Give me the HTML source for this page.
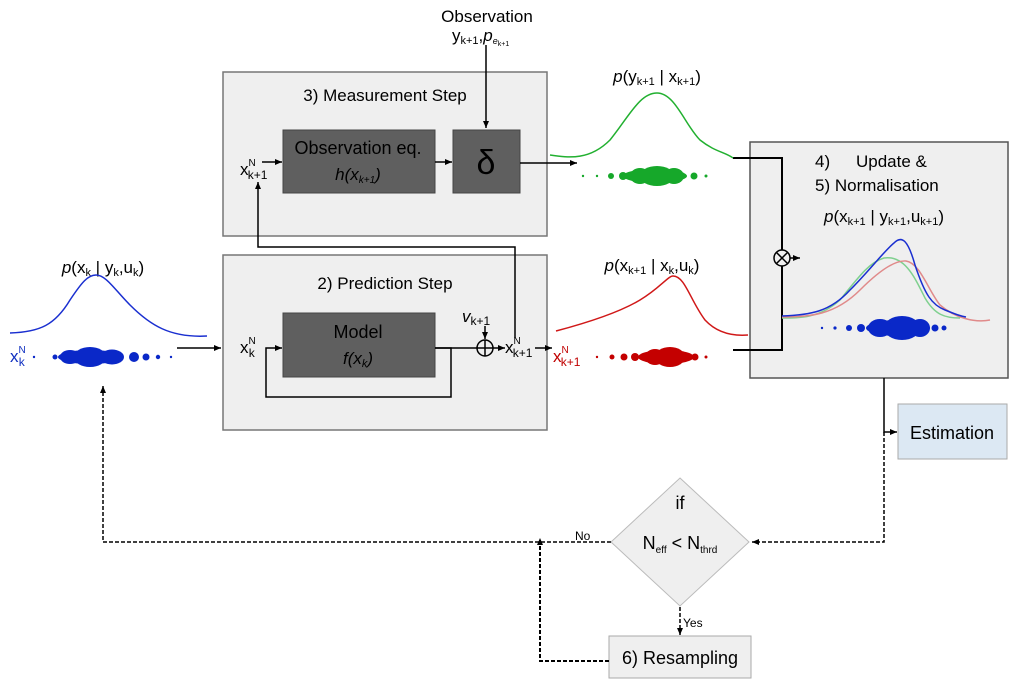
<!DOCTYPE html>
<html><head><meta charset="utf-8"><style>
body{margin:0;background:#fff}
svg{display:block;font-family:"Liberation Sans",sans-serif}
</style></head><body>
<svg width="1024" height="685" viewBox="0 0 1024 685" xmlns="http://www.w3.org/2000/svg">
<defs>
<marker id="a" markerWidth="8" markerHeight="8" refX="7" refY="4" orient="auto" markerUnits="userSpaceOnUse"><path d="M0,1 L7,4 L0,7z" fill="#000"/></marker>
</defs>
<rect x="223" y="72" width="324" height="164" fill="#efefef" stroke="#777" stroke-width="1.5"/>
<rect x="223" y="255" width="324" height="175" fill="#efefef" stroke="#777" stroke-width="1.5"/>
<rect x="750" y="142" width="258" height="236" fill="#efefef" stroke="#555" stroke-width="1.5"/>
<rect x="283" y="130" width="152" height="63" fill="#5f5f5f" stroke="#444"/>
<rect x="453" y="130" width="67" height="63" fill="#5f5f5f" stroke="#444"/>
<rect x="283" y="313" width="152" height="64" fill="#5f5f5f" stroke="#444"/>
<rect x="898" y="404" width="109" height="55" fill="#dce8f3" stroke="#aaa"/>
<rect x="609" y="636" width="142" height="42" fill="#efefef" stroke="#aaa"/>
<polygon points="680,478 749,542 680,606 611,542" fill="#efefef" stroke="#bbb"/>

<g font-size="17" fill="#000">
<text x="385" y="101" text-anchor="middle">3) Measurement Step</text>
<text x="385" y="289" text-anchor="middle">2) Prediction Step</text>
<text x="358" y="154" text-anchor="middle" font-size="18">Observation eq.</text>
<text x="358" y="180" text-anchor="middle" font-style="italic">h(x<tspan font-size="10" dy="3">k+1</tspan><tspan dy="-3">)</tspan></text>
<text x="486" y="174" text-anchor="middle" font-size="34">δ</text>
<text x="358" y="338" text-anchor="middle" font-size="18">Model</text>
<text x="358" y="364" text-anchor="middle" font-style="italic">f(x<tspan font-size="11" dy="3">k</tspan><tspan dy="-3">)</tspan></text>
<text x="487" y="22" text-anchor="middle">Observation</text>
<text x="452" y="41">y<tspan font-size="11" dy="3">k+1</tspan><tspan dy="-3">,</tspan><tspan font-style="italic">p</tspan><tspan font-size="9" font-style="italic" dy="3">e</tspan><tspan font-size="7" dy="2">k+1</tspan></text>
<text x="240" y="175">x<tspan font-size="10" dy="-9">N</tspan><tspan font-size="12" dx="-8" dy="13">k+1</tspan></text>
<text x="240" y="353">x<tspan font-size="10" dy="-9">N</tspan><tspan font-size="12" dx="-7" dy="13">k</tspan></text>
<text x="462" y="322" font-style="italic">v<tspan font-size="12" font-style="normal" dy="3">k+1</tspan></text>
<text x="505" y="353">x<tspan font-size="10" dy="-9">N</tspan><tspan font-size="12" dx="-8" dy="13">k+1</tspan></text>
<text x="10" y="362" fill="#1030c0">x<tspan font-size="10" dy="-9">N</tspan><tspan font-size="12" dx="-7" dy="13">k</tspan></text>
<text x="553" y="362" fill="#c00000">x<tspan font-size="10" dy="-9">N</tspan><tspan font-size="12" dx="-8" dy="13">k+1</tspan></text>
<text x="103" y="273" text-anchor="middle"><tspan font-style="italic">p</tspan>(x<tspan font-size="11" dy="3">k</tspan><tspan dy="-3"> | y</tspan><tspan font-size="11" dy="3">k</tspan><tspan dy="-3">,u</tspan><tspan font-size="11" dy="3">k</tspan><tspan dy="-3">)</tspan></text>
<text x="657" y="82" text-anchor="middle"><tspan font-style="italic">p</tspan>(y<tspan font-size="11" dy="3">k+1</tspan><tspan dy="-3"> | x</tspan><tspan font-size="11" dy="3">k+1</tspan><tspan dy="-3">)</tspan></text>
<text x="652" y="271" text-anchor="middle"><tspan font-style="italic">p</tspan>(x<tspan font-size="11" dy="3">k+1</tspan><tspan dy="-3"> | x</tspan><tspan font-size="11" dy="3">k</tspan><tspan dy="-3">,u</tspan><tspan font-size="11" dy="3">k</tspan><tspan dy="-3">)</tspan></text>
<text x="815" y="167">4)</text><text x="856" y="167">Update &amp;</text>
<text x="815" y="191">5) Normalisation</text>
<text x="884" y="222" text-anchor="middle"><tspan font-style="italic">p</tspan>(x<tspan font-size="11" dy="3">k+1</tspan><tspan dy="-3"> | y</tspan><tspan font-size="11" dy="3">k+1</tspan><tspan dy="-3">,u</tspan><tspan font-size="11" dy="3">k+1</tspan><tspan dy="-3">)</tspan></text>
<text x="952" y="439" text-anchor="middle" font-size="18">Estimation</text>
<text x="680" y="664" text-anchor="middle" font-size="18">6) Resampling</text>
<text x="680" y="509" text-anchor="middle" font-size="18">if</text>
<text x="680" y="549" text-anchor="middle" font-size="18">N<tspan font-size="10" dy="4">eff</tspan><tspan dy="-4"> &lt; N</tspan><tspan font-size="10" dy="4">thrd</tspan></text>
<text x="575" y="540" font-size="12">No</text>
<text x="683" y="627" font-size="12">Yes</text>
</g>

<g stroke="#000" stroke-width="1.5" fill="none">
<line x1="486" y1="45" x2="486" y2="128" marker-end="url(#a)"/>
<line x1="435" y1="162" x2="452" y2="162" marker-end="url(#a)"/>
<line x1="262" y1="162" x2="282" y2="162" marker-end="url(#a)"/>
<line x1="520" y1="163" x2="577" y2="163" marker-end="url(#a)"/>
<line x1="177" y1="348" x2="221" y2="348" marker-end="url(#a)"/>
<path d="M435,348 H451 V397 H266 V348 H282" marker-end="url(#a)"/>
<line x1="435" y1="348" x2="477" y2="348"/>
<circle cx="485" cy="348" r="8"/>
<line x1="477" y1="348" x2="493" y2="348"/><line x1="485" y1="340" x2="485" y2="356"/>
<line x1="485" y1="326" x2="485" y2="339" marker-end="url(#a)"/>
<line x1="493" y1="348" x2="505" y2="348" marker-end="url(#a)"/>
<line x1="535" y1="348" x2="552" y2="348" marker-end="url(#a)"/>
<path d="M515,338 V247 H258 V182" marker-end="url(#a)"/>
<path d="M733,158 H782 V250 M782,266 V350 H733" stroke-width="2"/>
<circle cx="782" cy="258" r="8"/>
<line x1="776" y1="252" x2="788" y2="264"/><line x1="788" y1="252" x2="776" y2="264"/>
<line x1="790" y1="258" x2="800" y2="258" marker-end="url(#a)"/>
<path d="M884,378 V432 H897" marker-end="url(#a)"/>
<g stroke-dasharray="4,2">
<path d="M884,432 V542 H752" marker-end="url(#a)"/>
<line x1="680" y1="607" x2="680" y2="635" marker-end="url(#a)"/>
<path d="M609,661 H540 V538" stroke-width="2" marker-end="url(#a)"/>
<path d="M611,542 H103 V386" marker-end="url(#a)"/>
</g>
</g>

<g fill="none" stroke-width="1.5">
<path d="M10,333 C40,332 55,325 70,300 C82,282 88,275 96,275 C106,275 115,290 130,305 C150,325 170,338 207,336" stroke="#1a2fd0"/>
<path d="M550,155 C570,158 590,160 610,140 C630,115 640,93 657,93 C675,93 685,125 700,140 C715,152 725,152 733,158" stroke="#22b030"/>
<path d="M556,331 C590,322 620,312 640,300 C660,288 668,276 673,276 C685,276 690,300 705,320 C718,334 735,336 748,335" stroke="#d01818"/>
<path d="M782,318 C800,318 820,318 840,300 C860,275 870,262 884,258 C905,255 915,278 925,298 C935,315 945,318 960,318" stroke="#7fd08f"/>
<path d="M782,317 C810,317 835,315 860,290 C880,270 895,260 906,261 C920,263 928,290 940,305 C955,318 975,323 990,320" stroke="#e08a8a"/>
<path d="M782,316 C810,315 830,312 850,290 C870,270 885,250 894,243 C902,235 908,240 915,265 C925,295 932,305 945,310 C955,314 960,316 966,317" stroke="#1a2fd0"/>
</g>

<g fill="#0a28c8">
<circle cx="34" cy="357" r="1.2"/><circle cx="171" cy="357" r="1.2"/><circle cx="158" cy="357" r="2.2"/><circle cx="146" cy="357" r="3.5"/><circle cx="134" cy="357" r="5"/><circle cx="55" cy="357" r="2.5"/>
<ellipse cx="90" cy="357" rx="32" ry="7"/><ellipse cx="90" cy="357" rx="16" ry="10"/><ellipse cx="112" cy="357" rx="12" ry="7.5"/><ellipse cx="70" cy="357" rx="10" ry="7"/>
<circle cx="822" cy="328" r="1.2"/><circle cx="835" cy="328" r="1.6"/><circle cx="849" cy="328" r="3"/><circle cx="861" cy="328" r="4"/><circle cx="944" cy="328" r="2.5"/><circle cx="935" cy="328" r="3.5"/>
<ellipse cx="898" cy="328" rx="32" ry="8"/><ellipse cx="902" cy="328" rx="18" ry="12"/><ellipse cx="880" cy="328" rx="12" ry="9"/><ellipse cx="920" cy="328" rx="10" ry="9"/>
</g>
<g fill="#16a82a">
<circle cx="583" cy="176" r="1.2"/><circle cx="597" cy="176" r="1.2"/><circle cx="611" cy="176" r="3"/><circle cx="623" cy="176" r="4"/><circle cx="706" cy="176" r="1.5"/><circle cx="694" cy="176" r="3.5"/>
<ellipse cx="655" cy="176" rx="32" ry="7"/><ellipse cx="657" cy="176" rx="17" ry="10"/><ellipse cx="640" cy="176" rx="10" ry="8"/><ellipse cx="674" cy="176" rx="10" ry="8"/>
</g>
<g fill="#c40000">
<circle cx="597" cy="357" r="1.2"/><circle cx="612" cy="357" r="2.5"/><circle cx="624" cy="357" r="3.5"/><circle cx="635" cy="357" r="4"/><circle cx="706" cy="357" r="1.5"/><circle cx="695" cy="357" r="3.5"/>
<ellipse cx="666" cy="357" rx="28" ry="7"/><ellipse cx="670" cy="357" rx="15" ry="10"/><ellipse cx="655" cy="357" rx="10" ry="8"/>
</g>
</svg>
</body></html>
